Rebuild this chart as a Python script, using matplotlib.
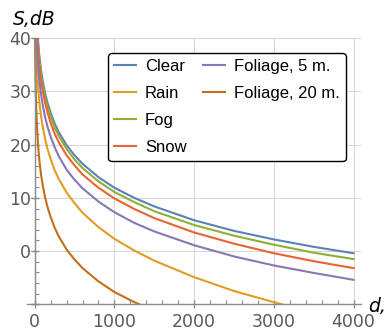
"""
Signal level S versus distance d for several propagation conditions
"""
import numpy as np
import matplotlib.pyplot as plt
from matplotlib.lines import Line2D
from matplotlib.ticker import MultipleLocator

nan = np.nan

# distance, m
distance = [4, 5, 10, 15, 20, 30, 40, 50, 60, 80, 100, 130, 160, 200, 250, 300,
            400, 500, 600, 800, 1000, 1250, 1500, 2000, 2500, 3000, 3500, 4000]

# signal level, dB
clear = [nan, nan, nan, nan, nan, 42.5, 40.0, 38.0, 36.4, 33.9, 32.0, 29.7, 27.9, 26.0,
         24.0, 22.4, 19.9, 18.0, 16.4, 13.9, 11.9, 10.0, 8.4, 5.8, 3.8, 2.2, 0.8, -0.4]
rain = [nan, nan, 43.5, 40.0, 37.5, 34.0, 31.5, 29.4, 27.8, 25.3, 23.4, 21.1, 19.2, 17.3,
        15.2, 13.6, 11.0, 9.0, 7.2, 4.5, 2.3, 0.1, -1.8, -4.9, -7.5, -9.6, -11.6, nan]
fog = [nan, nan, nan, nan, nan, 41.8, 39.3, 37.3, 35.7, 33.2, 31.3, 29.0, 27.2, 25.3,
       23.3, 21.7, 19.2, 17.2, 15.6, 13.1, 11.1, 9.2, 7.5, 4.9, 2.9, 1.2, -0.3, -1.5]
snow = [nan, nan, nan, nan, 44.2, 40.7, 38.2, 36.2, 34.6, 32.1, 30.2, 27.9, 26.1, 24.1,
        22.1, 20.5, 18.0, 16.1, 14.4, 11.9, 9.9, 7.9, 6.2, 3.5, 1.4, -0.4, -1.9, -3.2]
foliage5 = [nan, nan, nan, 44.0, 41.5, 38.0, 35.5, 33.5, 31.9, 29.4, 27.5, 25.2, 23.4, 21.5,
            19.5, 17.9, 15.3, 13.4, 11.8, 9.3, 7.3, 5.3, 3.7, 1.1, -1.0, -2.7, -4.1, -5.4]
foliage20 = [40.4, 38.4, 32.4, 28.9, 26.4, 22.9, 20.4, 18.4, 16.8, 14.3, 12.4, 10.1, 8.3, 6.4,
             4.4, 2.8, 0.3, -1.6, -3.2, -5.7, -7.7, -9.6, -11.2, nan, nan, nan, nan, nan]

names = ['Clear', 'Rain', 'Fog', 'Snow', 'Foliage, 5 m.', 'Foliage, 20 m.']
colors = ['#5E81B5', '#E19C24', '#8FB032', '#EB6235', '#8778B3', '#C56E1A']

plt.rcParams['font.family'] = ['Liberation Sans', 'DejaVu Sans']

fig = plt.figure(figsize=(3.85, 3.33), dpi=100)
ax = fig.add_axes([27 / 385, 1 - 304.3 / 333, (360.7 - 27) / 385, (304.3 - 37.5) / 333])

for vals, name, col in zip([clear, rain, fog, snow, foliage5, foliage20], names, colors):
    ax.plot(distance, vals, color=col, lw=1.5, label=name)

ax.set_xlim(-97, 4090)
ax.set_ylim(-10, 40.15)

# Mathematica-like axes
axis_col = '#8c8c8c'
for side in ['top', 'right']:
    ax.spines[side].set_visible(False)
ax.spines['left'].set_position(('data', 0))
for side in ['left', 'bottom']:
    ax.spines[side].set_color(axis_col)
    ax.spines[side].set_linewidth(1.0)

ax.xaxis.set_minor_locator(MultipleLocator(200))
ax.yaxis.set_minor_locator(MultipleLocator(2))
ax.set_xticks([0, 1000, 2000, 3000, 4000])
ax.set_yticks([-10, 0, 10, 20, 30, 40], ['', '0', '10', '20', '30', '40'])
for lab in ax.get_xticklabels() + ax.get_yticklabels():
    lab.set_family('DejaVu Sans')

ax.tick_params(which='major', direction='inout', length=6, width=1, color=axis_col,
               labelsize=12.5, labelcolor='#5a5a5a')
ax.tick_params(which='minor', direction='in', length=3, width=0.8, color=axis_col)
ax.tick_params(axis='y', which='major', pad=-0.5)
ax.tick_params(axis='x', which='major', pad=3.5)

ax.grid(True, which='major', color='#d8d8d8', lw=0.8)
ax.set_axisbelow(True)

fig.text(12.7 / 385, 1 - 25 / 333, 'S,dB', fontsize=13.5, style='italic',
         family='DejaVu Sans', va='baseline')
fig.text(368 / 385, 1 - 312 / 333, 'd,', fontsize=13.5, style='italic',
         family='DejaVu Sans', va='baseline')

# legend: four entries in the first column, two in the second
handles, labels = ax.get_legend_handles_labels()
blank = Line2D([], [], color='none')
handles = handles + [blank, blank]
labels = labels + ['', '']
leg = ax.legend(handles, labels, ncol=2, loc='upper left',
                bbox_to_anchor=(108.3 / 385, 1 - 53.3 / 333), bbox_transform=fig.transFigure,
                borderaxespad=0, fontsize=12, handlelength=1.3, handletextpad=0.55,
                columnspacing=1.0, labelspacing=0.72, borderpad=0.35,
                fancybox=True, framealpha=1, edgecolor='black')
leg.get_frame().set_linewidth(1.0)

fig.savefig('out.png', dpi=100)
